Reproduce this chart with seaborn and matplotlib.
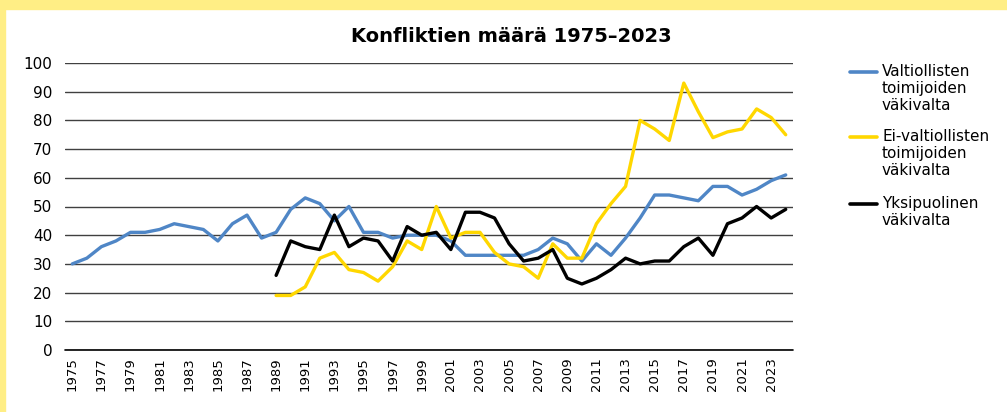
import numpy as np
import pandas as pd
import seaborn as sns
import matplotlib.pyplot as plt
from matplotlib.lines import Line2D
from matplotlib.patches import Rectangle

years = list(range(1975, 2025))

valtiolliset = [30, 32, 36, 38, 41, 41, 42, 44, 43, 42,
                38, 44, 47, 39, 41, 49, 53, 51, 45, 50,
                41, 41, 39, 40, 40, 40, 38, 33, 33, 33,
                33, 33, 35, 39, 37, 31, 37, 33, 39, 46,
                54, 54, 53, 52, 57, 57, 54, 56, 59, 61]

ei_years = list(range(1989, 2025))
ei_valtiolliset = [19, 19, 22, 32, 34, 28, 27, 24, 29, 38,
                   35, 50, 39, 41, 41, 34, 30, 29, 25, 37,
                   32, 32, 44, 51, 57, 80, 77, 73, 93, 83,
                   74, 76, 77, 84, 81, 75]

yksipuolinen = [26, 38, 36, 35, 47, 36, 39, 38, 31, 43,
                40, 41, 35, 48, 48, 46, 37, 31, 32, 35,
                25, 23, 25, 28, 32, 30, 31, 31, 36, 39,
                33, 44, 46, 50, 46, 49]

series_names = ["Valtiollisten\ntoimijoiden\nväkivalta",
                "Ei-valtiollisten\ntoimijoiden\nväkivalta",
                "Yksipuolinen\nväkivalta"]
colors = ["#4F86C6", "#FFD700", "#000000"]

df = pd.concat([
    pd.DataFrame({"vuosi": years, "maara": valtiolliset, "sarja": series_names[0]}),
    pd.DataFrame({"vuosi": ei_years, "maara": ei_valtiolliset, "sarja": series_names[1]}),
    pd.DataFrame({"vuosi": ei_years, "maara": yksipuolinen, "sarja": series_names[2]}),
])

sns.set_style("white")
plt.rcParams['font.family'] = ['DejaVu Sans']
plt.rcParams['text.color'] = 'black'
plt.rcParams['xtick.color'] = 'black'
plt.rcParams['ytick.color'] = 'black'

fig = plt.figure(figsize=(10.07, 4.12), dpi=100)
# yellow frame at top and left
fig.patches.append(Rectangle((0, 1 - 9 / 412), 1, 9 / 412, transform=fig.transFigure,
                             color="#FFEE85", zorder=0))
fig.patches.append(Rectangle((0, 0), 5 / 1007, 1, transform=fig.transFigure,
                             color="#FFEE85", zorder=0))

ax = fig.add_axes([65 / 1007, 1 - 350 / 412, (793 - 65) / 1007, (350 - 63) / 412])
sns.lineplot(data=df, x="vuosi", y="maara", hue="sarja", palette=colors,
             hue_order=series_names, linewidth=2.4, legend=False, ax=ax, zorder=3)

ax.set_xlim(1974.5, 2024.5)
ax.set_ylim(0, 100)
ax.set_yticks(np.arange(0, 101, 10))
ax.set_xticks(years[::2])
ax.set_xticklabels([str(y) for y in years[::2]], rotation=90)
ax.tick_params(axis="y", length=0, pad=9, labelsize=11)
ax.tick_params(axis="x", length=0, pad=5, labelsize=9.5)
ax.grid(axis="y", color="#404040", linewidth=1.0)
ax.grid(axis="x", visible=False)
ax.axhline(0, color="black", linewidth=1.2, clip_on=False, zorder=2)
for s in ax.spines.values():
    s.set_visible(False)
ax.set_xlabel("")
ax.set_ylabel("")

fig.text(511 / 1007, 1 - 37 / 412, "Konfliktien määrä 1975–2023",
         ha="center", va="center", fontsize=14, fontweight="bold", color="black")

# legend
entry_tops = [72, 137, 204]
for name, col, top in zip(series_names, colors, entry_tops):
    yy = 1 - top / 412
    fig.add_artist(Line2D([850 / 1007, 877 / 1007], [yy, yy], color=col,
                          linewidth=2.6, transform=fig.transFigure))
    fig.text(882 / 1007, yy + 8 / 412, name, ha="left", va="top", fontsize=11,
             linespacing=1.15, color="black")

fig.savefig("out.png", dpi=100)
